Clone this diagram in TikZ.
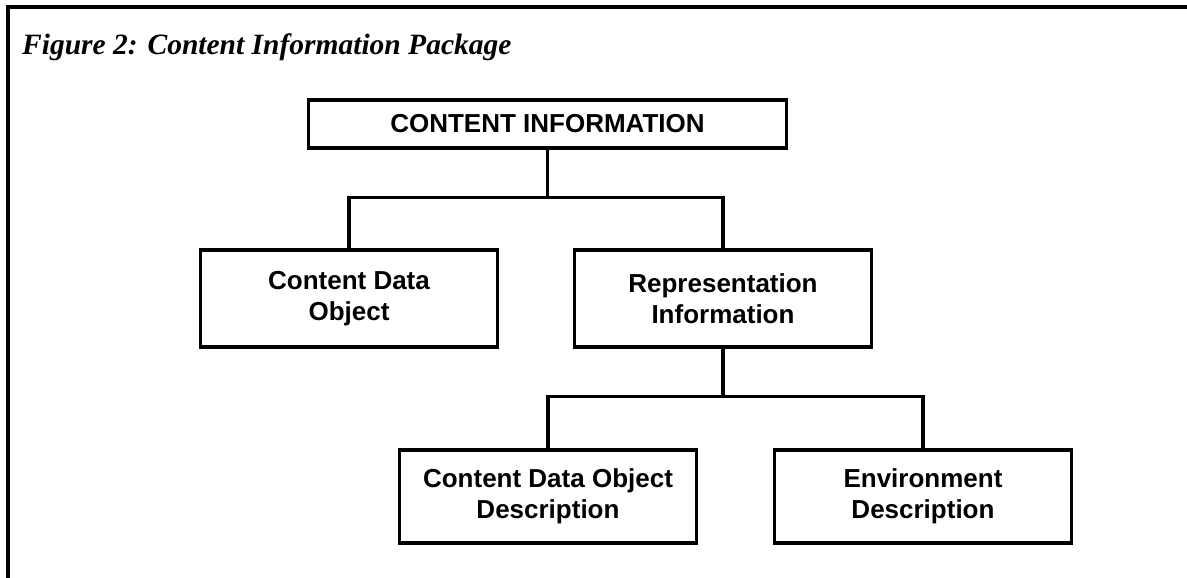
\documentclass[tikz,border=0pt]{standalone}
\usepackage{fontspec}
\setmainfont{Liberation Serif}
\setsansfont{Liberation Sans}
\usetikzlibrary{positioning}

\begin{document}
\begin{tikzpicture}[x=1pt, y=-1pt,
        box/.style={draw, line width=3.3pt, minimum width=297pt, minimum height=97pt,
            align=center, font=\sffamily\bfseries\fontsize{26}{31}\selectfont},
        link/.style={line width=3.3pt}]
        \useasboundingbox (0,0) rectangle (1187,578);

        % frame round the figure, open at right and bottom
        \coordinate (fr1) at (8,578);
        \coordinate (fr2) at (8,7);
        \coordinate (fr3) at (1187,7);
        \draw[line width=4pt] (fr1) -- (fr2) -- (fr3);

        \node[anchor=base west, inner sep=0pt, font=\rmfamily\bfseries\itshape\fontsize{29.5}{34}\selectfont] (title) at (22,55) {Figure 2: Content Information Package};

        \node[box, minimum width=478pt, minimum height=48pt] (info) at (547.5,124) {CONTENT INFORMATION};
        \node[box] (cdo) at (349,298.5) {Content Data\\Object};
        \node[box] (rep) at (723,298.5) {Representation\\Information};
        \node[box, minimum height=93pt] (cdodesc) at (548,496.5) {Content Data Object\\Description};
        \node[box, minimum height=93pt] (env) at (923,496.5) {Environment\\Description};

        \coordinate[below=48pt of info] (fork1);
        \coordinate[below=48pt of rep] (fork2);

        \draw[link] (info) -- (fork1);
        \draw[link] (cdo.north) |- (fork1) -| (rep.north);
        \draw[link] (rep) -- (fork2);
        \draw[link] (cdodesc.north) |- (fork2) -| (env.north);
    \end{tikzpicture}
\end{document}
